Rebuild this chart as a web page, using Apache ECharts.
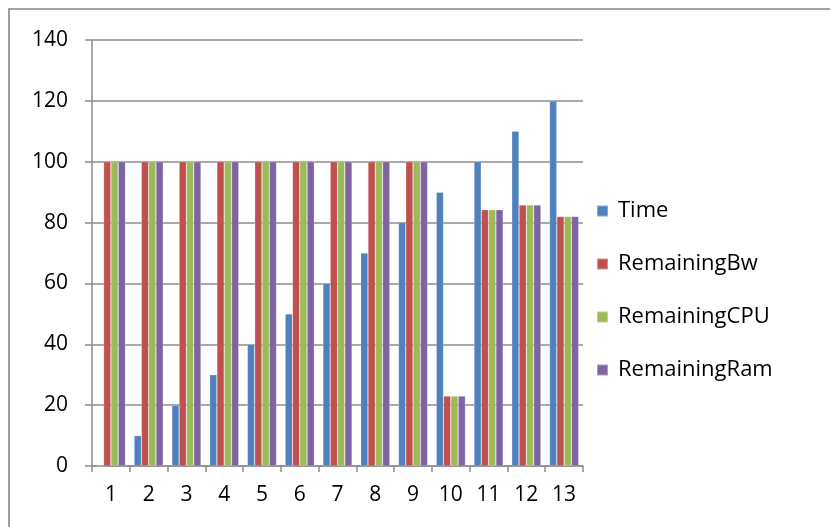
<!DOCTYPE html>
<html>
<head>
<meta charset="utf-8">
<script src="https://cdn.jsdelivr.net/npm/echarts@6/dist/echarts.min.js"></script>
<style>
html,body{margin:0;padding:0;background:#fff;}
#chart{width:830px;height:527px;}
</style>
</head>
<body>
<div id="chart"></div>
<script>
const categories = ['1','2','3','4','5','6','7','8','9','10','11','12','13'];
const timeValues = [0,10,20,30,40,50,60,70,80,90,100,110,120];
const remainingBw = [100,100,100,100,100,100,100,100,100,23,84.2,85.8,82];
const remainingCPU = [100,100,100,100,100,100,100,100,100,23,84.2,85.8,82];
const remainingRam = [100,100,100,100,100,100,100,100,100,23,84.2,85.8,82];
const seriesNames = ['Time','RemainingBw','RemainingCPU','RemainingRam'];
const colors = ['#4F81BD','#C0504D','#9BBB59','#8064A2'];

const chart = echarts.init(document.getElementById('chart'));
const FONT = 'Open Sans';
function bar(name, data, color){
  return {
    name, type:'bar', data,
    barWidth: 7.3, barGap: '0%',
    itemStyle:{color, borderColor: 'rgba(255,255,255,0.35)', borderWidth: 0.6},
    emphasis:{disabled:true}
  };
}
chart.setOption({
  animation:false,
  color: colors,
  graphic:[{
    type:'polyline',
    shape:{points:[[9,527],[9,9],[830,9]]},
    style:{stroke:'#858585', lineWidth:1.6, fill:null}
  }],
  grid:{left:92, right:247, top:40, bottom:61, containLabel:false},
  legend:{
    orient:'vertical', left:591, top:194,
    itemWidth:11, itemHeight:11, itemGap:29,
    icon:'rect',
    textStyle:{fontFamily:FONT, fontSize:22, lineHeight:24, color:'#000', padding:[0,0,0,5]},
    data: seriesNames
  },
  xAxis:{
    type:'category', data:categories,
    axisLine:{lineStyle:{color:'#8c8c8c', width:1.5}},
    axisTick:{show:true, length:6, alignWithLabel:false, lineStyle:{color:'#8c8c8c', width:1.5}},
    axisLabel:{fontFamily:FONT, fontSize:21, color:'#000', margin:19}
  },
  yAxis:{
    type:'value', min:0, max:140, interval:20,
    axisLine:{show:true, lineStyle:{color:'#8c8c8c', width:1.5}},
    axisTick:{show:true, length:7, lineStyle:{color:'#8c8c8c', width:1.5}},
    splitLine:{lineStyle:{color:'#8c8c8c', width:1.5}},
    axisLabel:{fontFamily:FONT, fontSize:21, color:'#000', margin:24}
  },
  series:[
    bar(seriesNames[0], timeValues, colors[0]),
    bar(seriesNames[1], remainingBw, colors[1]),
    bar(seriesNames[2], remainingCPU, colors[2]),
    bar(seriesNames[3], remainingRam, colors[3])
  ]
});
</script>
</body>
</html>
